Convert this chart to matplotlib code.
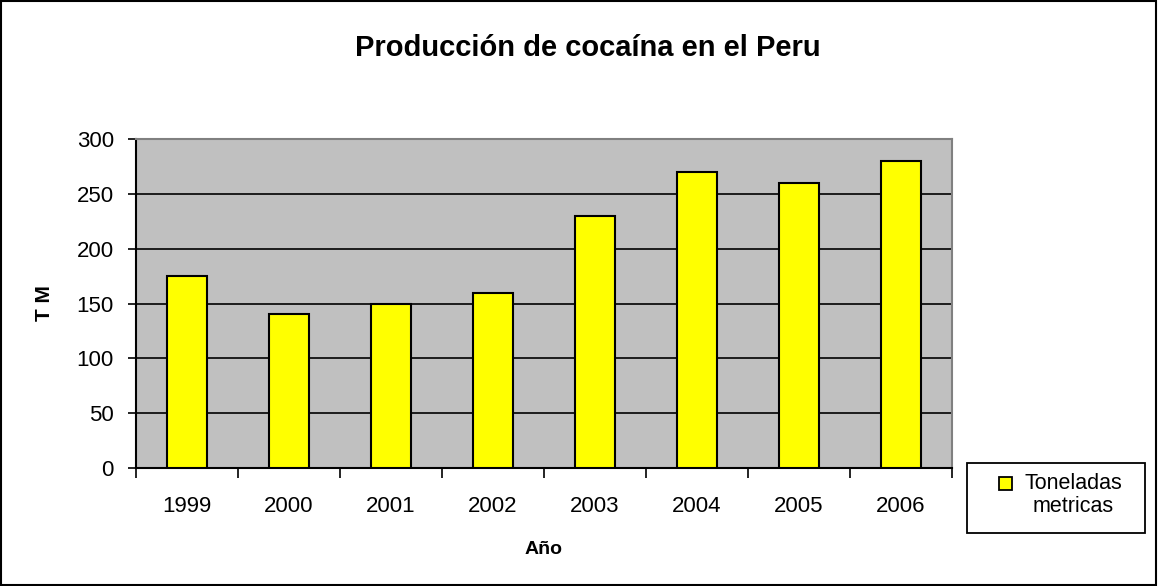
import matplotlib
matplotlib.use("Agg")
import matplotlib.pyplot as plt
from matplotlib.patches import Rectangle
import numpy as np

# datos: producción anual de cocaína (toneladas métricas)
anios = ["1999", "2000", "2001", "2002", "2003", "2004", "2005", "2006"]
toneladas = [175, 140, 150, 160, 230, 270, 260, 280]
yticks = [0, 50, 100, 150, 200, 250, 300]
serie = "Toneladas\nmetricas"

plt.rcParams['font.family'] = ['Liberation Sans', 'DejaVu Sans']

W, H = 1158, 586
fig = plt.figure(figsize=(W / 100, H / 100), dpi=100)
ax = fig.add_axes([136 / W, 1 - 468 / H, (952 - 136) / W, (468 - 139) / H])
ax.set_facecolor("#C0C0C0")

x = np.arange(len(anios))
ax.bar(x, toneladas, width=0.39, color="#FFFF00", edgecolor="black", linewidth=1.5, zorder=3)

ax.set_xlim(-0.5, len(anios) - 0.5)
ax.set_ylim(0, 300)
ax.set_yticks(yticks)
ax.set_yticklabels([str(v) for v in yticks], fontsize=16)
ax.yaxis.grid(True, color="black", linewidth=1.2, zorder=1)
ax.set_axisbelow(True)

# marcas del eje x entre categorías, etiquetas centradas en cada barra
ax.set_xticks(np.arange(-0.5, len(anios)))
ax.set_xticklabels([])
ax.set_xticks(x, minor=True)
ax.set_xticklabels(anios, minor=True, fontsize=16)
ax.tick_params(axis="x", which="major", length=7, width=1.2, direction="out")
ax.tick_params(axis="x", which="minor", length=0, pad=20)
ax.tick_params(axis="y", length=6, width=1.2, pad=10)

for lado in ["left", "bottom"]:
    ax.spines[lado].set_color("black")
    ax.spines[lado].set_linewidth(1.5)
for lado in ["top", "right"]:
    ax.spines[lado].set_color("#808080")
    ax.spines[lado].set_linewidth(1.5)

ax.set_ylabel("T M", fontsize=15, fontweight="bold", va="center")
ax.yaxis.set_label_coords((45 - 136) / 816, 0.5)
ax.set_xlabel("Año", fontsize=14, fontweight="bold", va="center")
ax.xaxis.set_label_coords(0.5, -(550 - 468) / 329)

fig.text(588 / W, 1 - 56 / H, "Producción de cocaína en el Peru", ha="center", va="baseline",
         fontsize=21, fontweight="bold")

# leyenda: caja, muestra de color y texto de la serie
fig.patches.append(Rectangle((967 / W, 1 - 533 / H), (1145 - 967) / W, 70 / H,
                             transform=fig.transFigure, fill=False,
                             edgecolor="black", linewidth=1.3))
fig.patches.append(Rectangle((999 / W, 1 - 490 / H), 13 / W, 13 / H,
                             transform=fig.transFigure, facecolor="#FFFF00",
                             edgecolor="black", linewidth=1.3))
fig.text(1073 / W, 1 - 473 / H, serie, ha="center", va="top", fontsize=15.5,
         multialignment="center", linespacing=1.1)

# marco exterior del gráfico
fig.patches.append(Rectangle((0.001, 0.002), 0.997, 0.996, transform=fig.transFigure,
                             fill=False, edgecolor="black", linewidth=1.5))

fig.savefig("out.png", dpi=100)
